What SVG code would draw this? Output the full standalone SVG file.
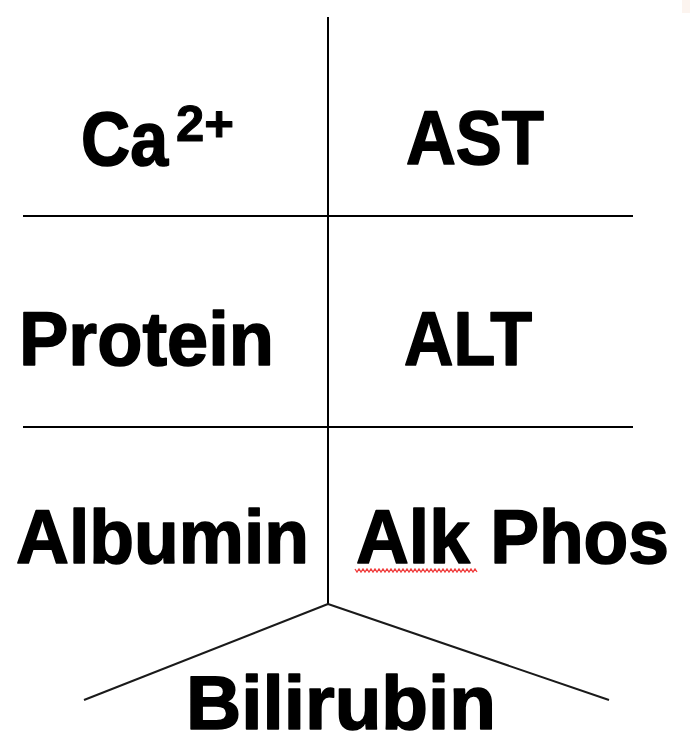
<svg xmlns="http://www.w3.org/2000/svg" width="690" height="737" viewBox="0 0 690 737">
<style>
.t{font-family:"Liberation Sans",Arial,sans-serif;font-weight:bold;font-size:76px;fill:#000;stroke:#000;stroke-width:1.6;stroke-linejoin:round}
.s{font-family:"Liberation Sans",Arial,sans-serif;font-weight:bold;font-size:50px;fill:#000;stroke:#000;stroke-width:1;stroke-linejoin:round}
.ln{stroke:#000;stroke-width:2;fill:none}
.dg{stroke:#1a1a1a;stroke-width:2;fill:none}
</style>
<rect width="690" height="737" fill="#fff"/>
<rect x="682" y="0" width="8" height="13" fill="#fcf4ef"/>
<g id="connectors">
<line class="ln" x1="328" y1="17" x2="328" y2="604"/>
<line class="ln" x1="23" y1="216" x2="633" y2="216"/>
<line class="ln" x1="23" y1="427" x2="633" y2="427"/>
<line class="dg" x1="328" y1="604" x2="84" y2="700"/>
<line class="dg" x1="328" y1="604" x2="609" y2="700"/>
</g>
<g id="ca">
<text class="t" x="81" y="165" textLength="87" lengthAdjust="spacingAndGlyphs">Ca</text>
<text class="s" x="176" y="141" textLength="58" lengthAdjust="spacingAndGlyphs">2+</text>
</g>
<g id="ast"><text class="t" x="406" y="164" textLength="138" lengthAdjust="spacingAndGlyphs">AST</text></g>
<g id="protein"><text class="t" x="19" y="365" textLength="255" lengthAdjust="spacingAndGlyphs">Protein</text></g>
<g id="alt"><text class="t" x="404" y="365" textLength="128" lengthAdjust="spacingAndGlyphs">ALT</text></g>
<g id="albumin"><text class="t" x="16" y="563" textLength="293" lengthAdjust="spacingAndGlyphs">Albumin</text></g>
<g id="alkphos">
<text class="t" x="356" y="563" textLength="313" lengthAdjust="spacingAndGlyphs">Alk Phos</text>
<polyline fill="none" stroke="#f03c3c" stroke-width="1.3" points="355,569 357,572 359,569 361,572 363,569 365,572 367,569 369,572 371,569 373,572 375,569 377,572 379,569 381,572 383,569 385,572 387,569 389,572 391,569 393,572 395,569 397,572 399,569 401,572 403,569 405,572 407,569 409,572 411,569 413,572 415,569 417,572 419,569 421,572 423,569 425,572 427,569 429,572 431,569 433,572 435,569 437,572 439,569 441,572 443,569 445,572 447,569 449,572 451,569 453,572 455,569 457,572 459,569 461,572 463,569 465,572 467,569 469,572 471,569 473,572 475,569 477,572"/>
</g>
<g id="bilirubin"><text class="t" x="186" y="729" textLength="310" lengthAdjust="spacingAndGlyphs">Bilirubin</text></g>
</svg>
